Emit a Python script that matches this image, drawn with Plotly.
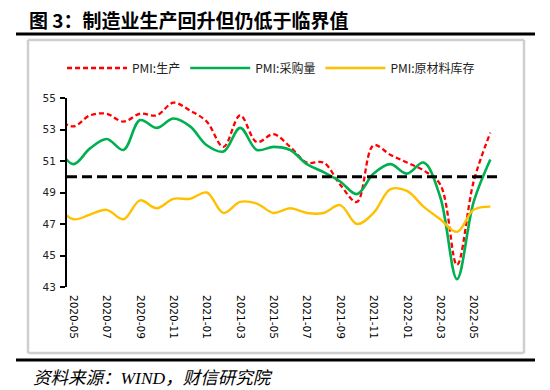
import plotly.graph_objects as go

months = ["2020-04", "2020-05", "2020-06", "2020-07", "2020-08", "2020-09", "2020-10", "2020-11", "2020-12",
          "2021-01", "2021-02", "2021-03", "2021-04", "2021-05", "2021-06", "2021-07", "2021-08", "2021-09",
          "2021-10", "2021-11", "2021-12", "2022-01", "2022-02", "2022-03", "2022-04", "2022-05", "2022-06"]
production = [53.7, 53.2, 53.9, 54.0, 53.5, 54.0, 53.9, 54.7, 54.2,
              53.5, 51.9, 53.9, 52.2, 52.7, 51.9, 50.9, 50.9, 49.5,
              48.4, 52.0, 51.4, 50.9, 50.4, 49.5, 44.4, 49.7, 52.8]
purchase = [52.0, 50.8, 51.8, 52.4, 51.7, 53.6, 53.1, 53.7, 53.2,
            52.0, 51.6, 53.1, 51.7, 51.9, 51.7, 50.8, 50.3, 49.7,
            48.9, 50.2, 50.8, 50.2, 50.9, 48.7, 43.5, 48.4, 51.1]
raw_inventory = [48.2, 47.3, 47.6, 47.9, 47.3, 48.5, 48.0, 48.6, 48.6,
                 49.0, 47.7, 48.4, 48.3, 47.7, 48.0, 47.7, 47.7, 48.2,
                 47.0, 47.7, 49.2, 49.1, 48.1, 47.3, 46.5, 47.9, 48.1]
series_names = ["PMI:生产", "PMI:采购量", "PMI:原材料库存"]
tick_labels = months[1::2]
THRESHOLD = 50
Y_TICKS = [43, 45, 47, 49, 51, 53, 55]

idx = list(range(len(months)))
tick_pos = idx[1::2]

W, H = 550, 390
L, R, T, B = 67, 497, 98, 287


def px(x):
    return (x - L) / (R - L)


def py(y):
    return (B - y) / (B - T)


fig = go.Figure()
fig.add_trace(go.Scatter(x=idx, y=production, name=series_names[0], mode="lines",
                         line=dict(color="#FF0000", width=2.3, dash="5px,3px", shape="spline", smoothing=1.0)))
fig.add_trace(go.Scatter(x=idx, y=purchase, name=series_names[1], mode="lines",
                         line=dict(color="#00B050", width=2.6, shape="spline", smoothing=1.0)))
fig.add_trace(go.Scatter(x=idx, y=raw_inventory, name=series_names[2], mode="lines",
                         line=dict(color="#FFC000", width=2.4, shape="spline", smoothing=1.0)))

# threshold line
fig.add_shape(type="line", xref="paper", yref="y", x0=0, x1=1, y0=THRESHOLD, y1=THRESHOLD,
              line=dict(color="black", width=3, dash="10px,5px"), layer="above")
# gray frame (four edges)
fx0, fx1, fy0, fy1 = px(28), px(524), py(353), py(40)
for (a0, b0, a1, b1) in [(fx0, fy0, fx1, fy0), (fx0, fy1, fx1, fy1), (fx0, fy0, fx0, fy1), (fx1, fy0, fx1, fy1)]:
    fig.add_shape(type="line", xref="paper", yref="paper", x0=a0, y0=b0, x1=a1, y1=b1,
                  line=dict(color="#CFCFCF", width=2.5), layer="above")
# black rules
for yy in (34, 360):
    fig.add_shape(type="line", xref="paper", yref="paper", x0=px(16), x1=px(535), y0=py(yy), y1=py(yy),
                  line=dict(color="black", width=3))

fig.add_annotation(text="<b>图 3：制造业生产回升但仍低于临界值</b>", xref="paper", yref="paper",
                   x=px(27), y=py(19), xanchor="left", yanchor="middle", showarrow=False,
                   font=dict(family="Noto Sans CJK SC", size=19, color="black"))
fig.add_annotation(text="资料来源：WIND，财信研究院", xref="paper", yref="paper",
                   x=px(31), y=py(378), xanchor="left", yanchor="middle", showarrow=False,
                   font=dict(family="Liberation Serif, Noto Sans CJK SC", size=17.5, color="black", style="italic"))

fig.update_layout(
    width=W, height=H,
    margin=dict(l=L, r=W - R, t=T, b=H - B, pad=0),
    paper_bgcolor="white", plot_bgcolor="white",
    showlegend=True,
    legend=dict(orientation="h", x=px(62), y=py(68), xanchor="left", yanchor="middle",
                font=dict(family="Noto Sans CJK SC", size=12, color="#222"),
                itemwidth=60, bgcolor="rgba(0,0,0,0)", tracegroupgap=0),
    xaxis=dict(range=[0.62, 26.4], tickmode="array", tickvals=tick_pos, ticktext=tick_labels,
               tickangle=90, showline=False, showgrid=False, zeroline=False, ticks="",
               ticklabelstandoff=7,
               tickfont=dict(family="DejaVu Sans", size=10.5, color="black")),
    yaxis=dict(range=[43, 55], tickmode="array", tickvals=Y_TICKS, showgrid=False, zeroline=False,
               showline=True, linecolor="black", linewidth=2, ticks="outside", ticklen=5, tickwidth=2,
               ticklabelstandoff=2,
               tickcolor="black", tickfont=dict(family="DejaVu Sans", size=10.5, color="#222")),
)

fig.write_html("out.html", config={"displayModeBar": False},
               post_script="document.body.style.margin='0px';document.body.style.overflow='hidden';")
